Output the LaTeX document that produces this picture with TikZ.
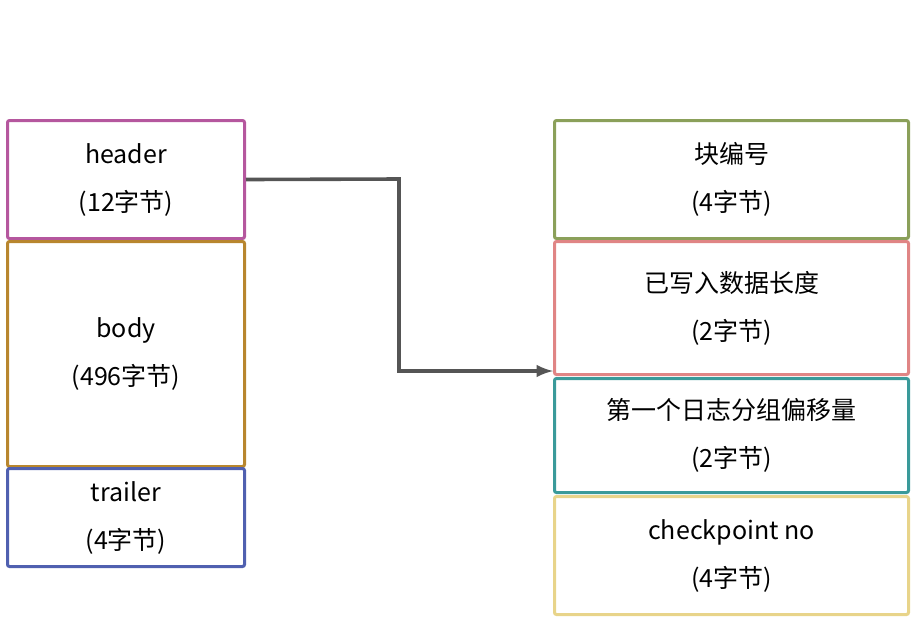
\documentclass[tikz,border=0pt]{standalone}
\usepackage{fontspec}
\setmainfont{Noto Sans CJK SC}
\usetikzlibrary{positioning}
\definecolor{cHead}{HTML}{B5579E}
\definecolor{cBody}{HTML}{B8862E}
\definecolor{cTrail}{HTML}{5060B0}
\definecolor{cNum}{HTML}{8BA05A}
\definecolor{cLen}{HTML}{E08585}
\definecolor{cOff}{HTML}{3A9A9A}
\definecolor{cChk}{HTML}{E8D48A}
\definecolor{cArr}{HTML}{555555}
\begin{document}
\begin{tikzpicture}[x=0.5pt,y=-0.5pt,
  field/.style={draw,line width=1.5pt,rounded corners=1pt,anchor=north west,
    align=center,font=\fontsize{12.5}{24}\selectfont,inner sep=0pt}]
  \useasboundingbox (0,0) rectangle (911,618);

  \node (header) [field,draw=cHead,minimum width=118.5pt,minimum height=59pt] at (6,119) {header\\(12字节)};
  \node (body) [field,draw=cBody,minimum width=118.5pt,minimum height=112.5pt] at (6,240) {body\\(496字节)};
  \node (trailer) [field,draw=cTrail,minimum width=118.5pt,minimum height=49pt] at (6,467) {trailer\\(4字节)};

  \node (blockno) [field,draw=cNum,minimum width=177pt,minimum height=59pt] at (553,119) {块编号\\(4字节)};
  \node (written) [field,draw=cLen,minimum width=177pt,minimum height=66.5pt] at (553,240) {已写入数据长度\\(2字节)};
  \node (offset) [field,draw=cOff,minimum width=177pt,minimum height=57pt] at (553,377) {第一个日志分组偏移量\\(2字节)};
  \node (chkpt) [field,draw=cChk,minimum width=177pt,minimum height=59pt] at (553,495) {checkpoint no\\(4字节)};

  \coordinate (bendA) at (399,179);
  \coordinate (bendB) at (399,371);
  \coordinate (tip) at (553,371);
  \draw [cArr,line width=1.8pt,-latex] (header.east) -- (bendA) -- (bendB) -- (tip);
\end{tikzpicture}
\end{document}
